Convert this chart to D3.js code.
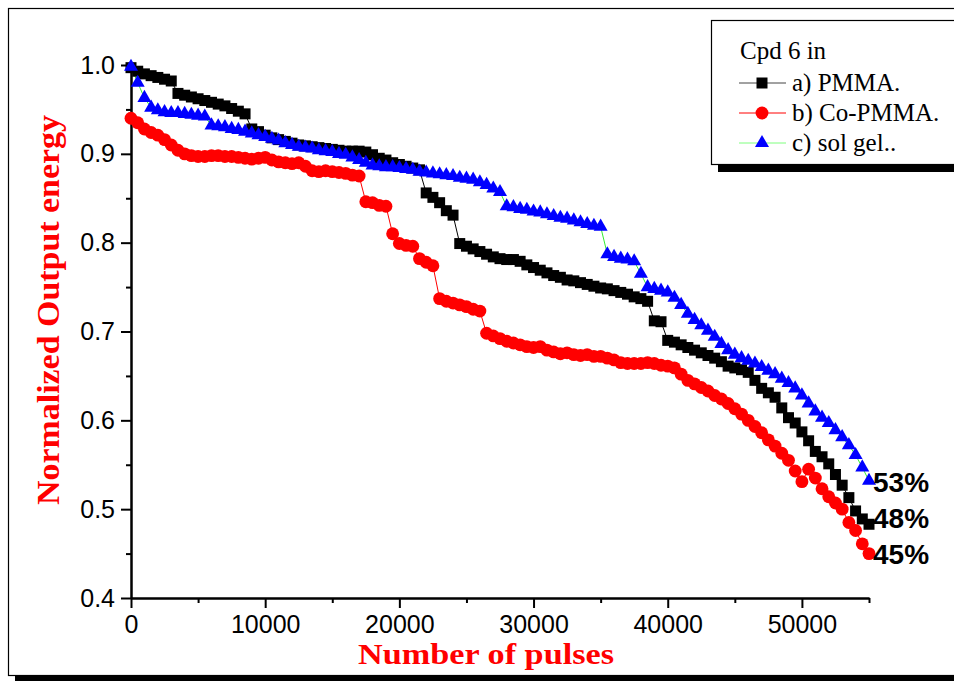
<!DOCTYPE html>
<html>
<head>
<meta charset="utf-8">
<script src="https://cdn.jsdelivr.net/npm/d3@7"></script>
<style>
  body { margin: 0; background: #fff; }
  svg { display: block; }
</style>
</head>
<body>
<div id="chart"></div>
<script>
// pulses, one reading every 500 pulses
const pulses = d3.range(0, 55001, 500);

const pmma = [
  0.997, 0.993, 0.990, 0.988, 0.986, 0.984, 0.982, 0.968, 0.966, 0.964,
  0.962, 0.960, 0.958, 0.956, 0.954, 0.951, 0.948, 0.945, 0.928, 0.925,
  0.921, 0.918, 0.916, 0.914, 0.912, 0.910, 0.909, 0.908, 0.907, 0.906,
  0.905, 0.904, 0.903, 0.903, 0.903, 0.902, 0.899, 0.895, 0.893, 0.890,
  0.888, 0.886, 0.884, 0.882, 0.856, 0.851, 0.845, 0.836, 0.831, 0.799,
  0.796, 0.793, 0.790, 0.787, 0.784, 0.782, 0.781, 0.781, 0.779, 0.775,
  0.772, 0.769, 0.766, 0.763, 0.761, 0.758, 0.757, 0.755, 0.753, 0.751,
  0.749, 0.748, 0.746, 0.744, 0.742, 0.739, 0.737, 0.734, 0.712, 0.711,
  0.690, 0.688, 0.685, 0.682, 0.679, 0.676, 0.673, 0.670, 0.666, 0.661,
  0.659, 0.657, 0.654, 0.645, 0.636, 0.631, 0.626, 0.614, 0.603, 0.597,
  0.587, 0.577, 0.565, 0.559, 0.551, 0.539, 0.527, 0.513, 0.498, 0.489,
  0.483
];

const coPmma = [
  0.940, 0.935, 0.928, 0.924, 0.921, 0.916, 0.910, 0.904, 0.900, 0.898,
  0.897, 0.897, 0.898, 0.898, 0.897, 0.897, 0.896, 0.895, 0.894, 0.895,
  0.896, 0.893, 0.891, 0.890, 0.889, 0.890, 0.886, 0.881, 0.880, 0.881,
  0.880, 0.879, 0.878, 0.876, 0.875, 0.846, 0.845, 0.842, 0.841, 0.810,
  0.799, 0.797, 0.796, 0.782, 0.778, 0.774, 0.737, 0.734, 0.732, 0.730,
  0.728, 0.725, 0.723, 0.698, 0.695, 0.692, 0.689, 0.687, 0.685, 0.683,
  0.682, 0.683, 0.679, 0.677, 0.675, 0.676, 0.674, 0.673, 0.674, 0.672,
  0.672, 0.670, 0.668, 0.665, 0.664, 0.664, 0.664, 0.665, 0.664, 0.662,
  0.661, 0.659, 0.652, 0.645, 0.641, 0.637, 0.633, 0.628, 0.624, 0.619,
  0.613, 0.607, 0.600, 0.593, 0.586, 0.578, 0.571, 0.563, 0.555, 0.543,
  0.531, 0.545, 0.535, 0.523, 0.514, 0.507, 0.500, 0.485, 0.476, 0.461,
  0.450
];

const solGel = [
  0.998, 0.980, 0.963, 0.952, 0.949, 0.947, 0.946, 0.946, 0.945, 0.944,
  0.943, 0.942, 0.932, 0.931, 0.930, 0.928, 0.927, 0.925, 0.923, 0.921,
  0.919, 0.917, 0.915, 0.912, 0.910, 0.908, 0.907, 0.906, 0.904, 0.903,
  0.902, 0.900, 0.899, 0.896, 0.893, 0.890, 0.887, 0.886, 0.885, 0.885,
  0.884, 0.883, 0.882, 0.880, 0.879, 0.878, 0.877, 0.876, 0.875, 0.873,
  0.872, 0.871, 0.868, 0.865, 0.861, 0.857, 0.841, 0.840, 0.838, 0.837,
  0.835, 0.834, 0.832, 0.830, 0.828, 0.827, 0.825, 0.823, 0.821, 0.819,
  0.818, 0.787, 0.784, 0.782, 0.781, 0.779, 0.765, 0.750, 0.748, 0.746,
  0.744, 0.738, 0.730, 0.720, 0.713, 0.707, 0.701, 0.694, 0.686, 0.679,
  0.674, 0.670, 0.667, 0.664, 0.660, 0.656, 0.652, 0.647, 0.642, 0.636,
  0.628, 0.619, 0.610, 0.603, 0.597, 0.589, 0.581, 0.572, 0.561, 0.547,
  0.532
];

const seriesNames = ["a) PMMA.", "b) Co-PMMA.", "c) sol gel.."];
const endLabels = ["48%", "45%", "53%"];
const xTicks = [0, 10000, 20000, 30000, 40000, 50000];
const xMinorTicks = [5000, 15000, 25000, 35000, 45000, 55000];
const yTicks = [0.4, 0.5, 0.6, 0.7, 0.8, 0.9, 1.0];
const yMinorTicks = [0.45, 0.55, 0.65, 0.75, 0.85, 0.95];

const width = 954, height = 681;
const serif = "'Liberation Serif', 'Times New Roman', serif";
const sans = "'Liberation Sans', Arial, sans-serif";

const svg = d3.select("#chart").append("svg")
    .attr("width", width).attr("height", height);

// page frame with its shadow
svg.append("rect").attr("x", 15).attr("y", 675).attr("width", 960).attr("height", 7).attr("fill", "#000");
svg.append("rect").attr("x", 8.5).attr("y", 8.5).attr("width", 960).attr("height", 667)
    .attr("fill", "#fff").attr("stroke", "#000").attr("stroke-width", 1.2);

const x = d3.scaleLinear().domain([0, 55000]).range([131, 869]);
const y = d3.scaleLinear().domain([0.4, 1.0]).range([598, 65]);

const series = [
    { name: seriesNames[0], values: pmma, fill: "#000", line: "#000", key: "#444", shape: d3.symbolSquare, size: 121, label: endLabels[0], dy: 4 },
    { name: seriesNames[1], values: coPmma, fill: "#ff0000", line: "#ff0000", key: "#ff0000", shape: d3.symbolCircle, size: 130, label: endLabels[1], dy: 10 },
    { name: seriesNames[2], values: solGel, fill: "#0000ff", line: "#33ee33", key: "#7fff7f", shape: d3.symbolTriangle, size: 85, label: endLabels[2], dy: 11 }
];

// axes
const styleAxis = g => {
    g.select(".domain").attr("stroke-width", 2);
    g.selectAll(".tick line").attr("stroke-width", 2);
    g.selectAll("text").attr("font-family", sans).attr("font-size", 25).attr("fill", "#000");
};

svg.append("g").attr("transform", "translate(131,0)")
    .call(d3.axisLeft(y).tickValues(yMinorTicks).tickSize(5).tickSizeOuter(0).tickFormat(""))
    .call(styleAxis);
svg.append("g").attr("transform", "translate(131,0)")
    .call(d3.axisLeft(y).tickValues(yTicks).tickSize(10).tickSizeOuter(0).tickPadding(6).tickFormat(d3.format(".1f")))
    .call(styleAxis);

svg.append("g").attr("transform", "translate(0,598)")
    .call(d3.axisBottom(x).tickValues(xMinorTicks).tickSize(5).tickSizeOuter(0).tickFormat(""))
    .call(styleAxis);
svg.append("g").attr("transform", "translate(0,598)")
    .call(d3.axisBottom(x).tickValues(xTicks).tickSize(10).tickSizeOuter(0).tickPadding(7).tickFormat(d3.format("d")))
    .call(styleAxis);

// axis titles
svg.append("text")
    .attr("x", 358).attr("y", 664)
    .attr("textLength", 256).attr("lengthAdjust", "spacingAndGlyphs")
    .attr("font-family", serif).attr("font-weight", "bold").attr("font-size", 29)
    .attr("fill", "#ff0000")
    .text("Number of pulses");

svg.append("text")
    .attr("transform", "translate(59,505) rotate(-90)")
    .attr("textLength", 390).attr("lengthAdjust", "spacingAndGlyphs")
    .attr("font-family", serif).attr("font-weight", "bold").attr("font-size", 31)
    .attr("fill", "#ff0000")
    .text("Normalized Output energy");

// series: connecting line then markers
const line = d3.line().x((d, i) => x(pulses[i])).y(d => y(d));

series.forEach(s => {
    svg.append("path")
        .attr("d", line(s.values))
        .attr("fill", "none")
        .attr("stroke", s.line)
        .attr("stroke-width", 1);
});

series.forEach(s => {
    svg.append("g").selectAll("path").data(s.values).enter().append("path")
        .attr("transform", (d, i) => `translate(${x(pulses[i])},${y(d)})`)
        .attr("d", d3.symbol().type(s.shape).size(s.size))
        .attr("fill", s.fill);
});

// drop percentages at the end of each curve
series.forEach(s => {
    const last = s.values[s.values.length - 1];
    svg.append("text")
        .attr("x", 873)
        .attr("y", y(last) + s.dy)
        .attr("font-family", sans).attr("font-weight", "bold").attr("font-size", 28)
        .attr("fill", "#000")
        .text(s.label);
});

// legend
svg.append("rect").attr("x", 718).attr("y", 164).attr("width", 300).attr("height", 8).attr("fill", "#000");
svg.append("rect").attr("x", 711.5).attr("y", 20.5).attr("width", 300).attr("height", 144)
    .attr("fill", "#fff").attr("stroke", "#000").attr("stroke-width", 1.2);

svg.append("text")
    .attr("x", 740).attr("y", 59)
    .attr("font-family", serif).attr("font-size", 25).attr("fill", "#000")
    .text("Cpd 6 in");

series.forEach((s, i) => {
    const cy = 83 + i * 30;
    svg.append("line")
        .attr("x1", 739).attr("x2", 786).attr("y1", cy).attr("y2", cy)
        .attr("stroke", s.key).attr("stroke-width", 1);
    svg.append("path")
        .attr("transform", `translate(762,${cy})`)
        .attr("d", d3.symbol().type(s.shape).size(s.size))
        .attr("fill", s.fill);
    svg.append("text")
        .attr("x", 792).attr("y", cy + 8)
        .attr("font-family", serif).attr("font-size", 25).attr("fill", "#000")
        .text(s.name);
});
</script>
</body>
</html>
